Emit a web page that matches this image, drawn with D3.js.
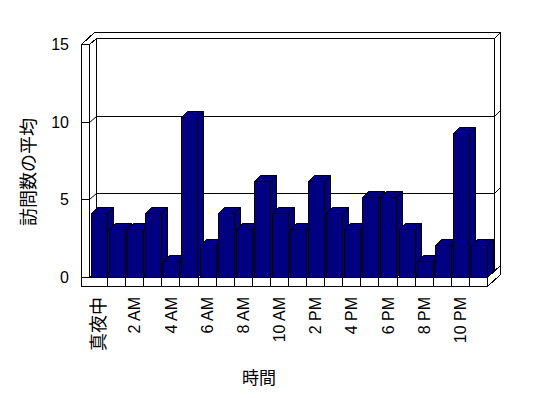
<!DOCTYPE html>
<html>
<head>
<meta charset="utf-8">
<script src="https://d3js.org/d3.v7.min.js"></script>
<style>
  body { margin: 0; background: #fff; }
  text { font-family: "Liberation Sans", Arial, "Noto Sans CJK JP", sans-serif; }
</style>
</head>
<body>
<script>
// hours of the day (every other one is labelled on the chart)
var categories = ["真夜中", "1 AM", "2 AM", "3 AM", "4 AM", "5 AM", "6 AM", "7 AM", "8 AM", "9 AM", "10 AM",
                  "11 AM", "2 PM", "3 PM", "4 PM", "5 PM", "6 PM", "7 PM", "8 PM", "9 PM", "10 PM", "11 PM"];
var visits = [4, 3, 3, 4, 1, 10, 2, 4, 3, 6, 4, 3, 6, 4, 3, 5, 5, 3, 1, 2, 9, 2];
var yTicks = [0, 5, 10, 15];
var yTitle = "訪問数の平均";
var xTitle = "時間";

var svg = d3.select("body").append("svg")
    .attr("width", 548)
    .attr("height", 398)
    .style("display", "block");

var x = d3.scaleBand().domain(categories).range([89.5, 487.5]);
var yAxis = d3.scaleLinear().domain([0, 15]).range([277.5, 44.5]);   // wall scale
var yBar = d3.scaleLinear().domain([0, 15]).range([277.5, 37.5]);    // bars come out a bit taller

var x0 = x.range()[0], x1 = x.range()[1];
var y0 = yAxis(0), yTop = yAxis(15);
var wallX = 81.5, floorB = 286.5;
var d1 = [7, -6], d2 = [13, -12];   // depth offsets: back wall face, back of slabs

function poly(pts) {
    return "M" + pts.map(function(p){ return p.join(","); }).join("L") + "Z";
}

var frame = svg.append("g")
    .attr("fill", "#fff")
    .attr("stroke", "#000")
    .attr("shape-rendering", "crispEdges");

// back wall
frame.append("rect")
    .attr("x", x0 + d1[0]).attr("y", yTop + d1[1])
    .attr("width", x1 - x0).attr("height", y0 - yTop);
frame.append("path").attr("d", poly([[x1 + d1[0], yTop + d1[1]], [x1 + d2[0], yTop + d2[1]],
                                     [x1 + d2[0], y0 + d2[1]], [x1 + d1[0], y0 + d1[1]]]));
// top edges of walls
frame.append("path").attr("d", poly([[wallX, yTop], [wallX + d2[0], yTop + d2[1]], [x1 + d2[0], yTop + d2[1]],
                                     [x1 + d1[0], yTop + d1[1]], [x0 + d1[0], yTop + d1[1]], [x0, yTop]]));
// left wall
frame.append("rect").attr("x", wallX).attr("y", yTop).attr("width", x0 - wallX).attr("height", y0 - yTop);
frame.append("path").attr("d", poly([[x0, yTop], [x0 + d1[0], yTop + d1[1]], [x0 + d1[0], y0 + d1[1]], [x0, y0]]));
// floor
frame.append("path").attr("d", poly([[x0, y0], [x1, y0], [x1 + d1[0], y0 + d1[1]], [x0 + d1[0], y0 + d1[1]]]));
frame.append("rect").attr("x", wallX).attr("y", y0).attr("width", x1 - wallX).attr("height", floorB - y0);
frame.append("path").attr("d", poly([[x1, y0], [x1 + d2[0], y0 + d2[1]], [x1 + d2[0], floorB + d2[1]], [x1, floorB]]));

// category separators on floor edge
frame.selectAll("line.sep")
    .data(categories.slice(1))
    .enter().append("line")
    .attr("class", "sep")
    .attr("x1", function(d){ return x(d); })
    .attr("x2", function(d){ return x(d); })
    .attr("y1", y0).attr("y2", floorB);

// gridlines wrapping round the walls
svg.append("g")
    .attr("fill", "none")
    .attr("stroke", "#000")
    .selectAll("path")
    .data(yTicks.slice(0, 3))
    .enter().append("path")
    .attr("d", function(v) {
        var yy = Math.round(yAxis(v) - 0.5) + 0.5;
        return "M" + wallX + "," + yy + "H" + x0 +
               "L" + (x0 + d1[0]) + "," + (yy + d1[1]) +
               "H" + (x1 + d1[0]) +
               "L" + (x1 + d2[0]) + "," + (yy + d2[1]);
    });

// bars, left to right so each covers the side of the one before
var bw = 16, side = [6, -6];
var bars = svg.append("g")
    .attr("fill", "#000080")
    .attr("stroke", "#000")
    .selectAll("g")
    .data(visits)
    .enter().append("g");

bars.append("path").attr("d", function(v, i) {
    var bx = Math.round(x(categories[i]) + 1.5) + 0.5, yt = Math.round(yBar(v) - 0.5) + 0.5;
    return poly([[bx + bw, yt], [bx + bw + side[0], yt + side[1]], [bx + bw + side[0], y0 + side[1]], [bx + bw, y0]]);
});
bars.append("path").attr("d", function(v, i) {
    var bx = Math.round(x(categories[i]) + 1.5) + 0.5, yt = Math.round(yBar(v) - 0.5) + 0.5;
    return poly([[bx, yt], [bx + bw, yt], [bx + bw + side[0], yt + side[1]], [bx + side[0], yt + side[1]]]);
});
bars.append("rect")
    .attr("shape-rendering", "crispEdges")
    .attr("x", function(v, i){ return Math.round(x(categories[i]) + 1.5) + 0.5; })
    .attr("y", function(v){ return Math.round(yBar(v) - 0.5) + 0.5; })
    .attr("width", bw)
    .attr("height", function(v){ return y0 - (Math.round(yBar(v) - 0.5) + 0.5); });

// value axis labels
var ya = svg.append("g")
    .attr("transform", "translate(69,0)")
    .call(d3.axisLeft(yAxis).tickValues(yTicks).tickSize(0).tickPadding(0));
ya.select(".domain").remove();
ya.selectAll("text")
    .style("font-family", "'Liberation Sans', Arial, sans-serif")
    .style("font-size", "16px")
    .attr("fill", "#000");

// hour labels, every other category
var xa = svg.append("g")
    .attr("transform", "translate(0,297)")
    .call(d3.axisBottom(x).tickSize(0).tickFormat(function(d, i){ return i % 2 === 0 ? d : ""; }));
xa.select(".domain").remove();
xa.selectAll("text")
    .attr("x", 0).attr("y", 0).attr("dy", "0.35em")
    .attr("transform", "rotate(-90)")
    .attr("text-anchor", "end")
    .attr("fill", "#000")
    .style("font-family", "'Liberation Sans', Arial, 'Noto Sans CJK JP', sans-serif")
    .style("font-size", function(d){ return /[^\x00-\x7f]/.test(d) ? "18px" : "16px"; });

// axis titles
svg.append("text")
    .attr("transform", "translate(27,172) rotate(-90)")
    .attr("text-anchor", "middle")
    .attr("dominant-baseline", "central")
    .style("font-family", "'Noto Sans CJK JP', sans-serif")
    .style("font-size", "18px")
    .text(yTitle);

svg.append("text")
    .attr("x", 259).attr("y", 376)
    .attr("text-anchor", "middle")
    .attr("dominant-baseline", "central")
    .style("font-family", "'Noto Sans CJK JP', sans-serif")
    .style("font-size", "17px")
    .text(xTitle);
</script>
</body>
</html>
